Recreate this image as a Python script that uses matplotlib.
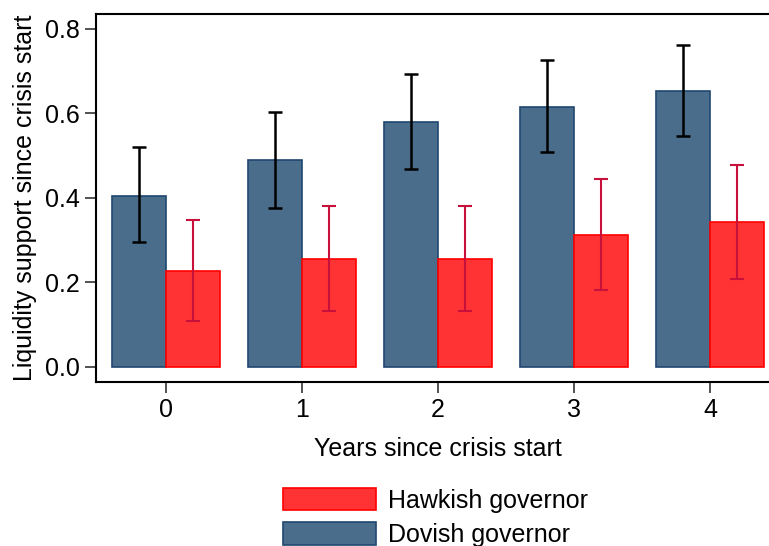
import matplotlib
matplotlib.use("Agg")
import matplotlib.pyplot as plt
import numpy as np

# Data
years = [0, 1, 2, 3, 4]
dovish_mean = [0.405, 0.489, 0.581, 0.616, 0.653]
dovish_lo = [0.295, 0.377, 0.469, 0.508, 0.547]
dovish_hi = [0.521, 0.604, 0.693, 0.727, 0.762]
hawkish_mean = [0.226, 0.256, 0.256, 0.313, 0.342]
hawkish_lo = [0.109, 0.133, 0.133, 0.182, 0.208]
hawkish_hi = [0.348, 0.381, 0.381, 0.445, 0.478]

plt.rcParams["font.family"] = ["Liberation Sans", "DejaVu Sans"]

fig = plt.figure(figsize=(7.69, 5.46), dpi=100)
ax = fig.add_axes([0.1248, 0.3004, 0.8895, 0.674])

x = np.array(years)
w = 0.4

dov_color = "#4a6d8c"
dov_edge = "#1f4770"
hawk_color = "#ff3333"
hawk_edge = "#ff0000"

dov = ax.bar(x - w / 2, dovish_mean, width=w, color=dov_color,
             edgecolor=dov_edge, linewidth=1.2, label="Dovish governor")
hawk = ax.bar(x + w / 2, hawkish_mean, width=w, color=hawk_color,
              edgecolor=hawk_edge, linewidth=1.2, label="Hawkish governor")

# Confidence intervals
dov_err = [np.array(dovish_mean) - np.array(dovish_lo),
           np.array(dovish_hi) - np.array(dovish_mean)]
hawk_err = [np.array(hawkish_mean) - np.array(hawkish_lo),
            np.array(hawkish_hi) - np.array(hawkish_mean)]
ax.errorbar(x - w / 2, dovish_mean, yerr=dov_err, fmt="none",
            ecolor="black", elinewidth=1.8, capsize=5, capthick=1.8)
ax.errorbar(x + w / 2, hawkish_mean, yerr=hawk_err, fmt="none",
            ecolor="#c8103c", elinewidth=1.5, capsize=5, capthick=1.5)

ax.set_xlim(-0.515, 4.515)
ax.set_ylim(-0.0355, 0.8355)
ax.set_xticks(years)
ax.set_yticks([0.0, 0.2, 0.4, 0.6, 0.8])
ax.set_yticklabels(["0.0", "0.2", "0.4", "0.6", "0.8"])
ax.tick_params(axis="both", direction="out", length=8, width=1.2,
               color="#333333", labelsize=18)

for spine in ax.spines.values():
    spine.set_linewidth(1.5)
    spine.set_color("black")

ax.set_xlabel("Years since crisis start", fontsize=18, labelpad=11)
ax.set_ylabel("Liquidity support since crisis start", fontsize=18, labelpad=6)

fig.legend(handles=[hawk, dov], labels=["Hawkish governor", "Dovish governor"],
           loc="upper left", bbox_to_anchor=(283 / 769, 1 - 488 / 546),
           frameon=False, fontsize=18, handlelength=3.72, handleheight=1.0,
           borderpad=0, borderaxespad=0, labelspacing=0.38, handletextpad=0.48)

fig.savefig("out.png", dpi=100)
